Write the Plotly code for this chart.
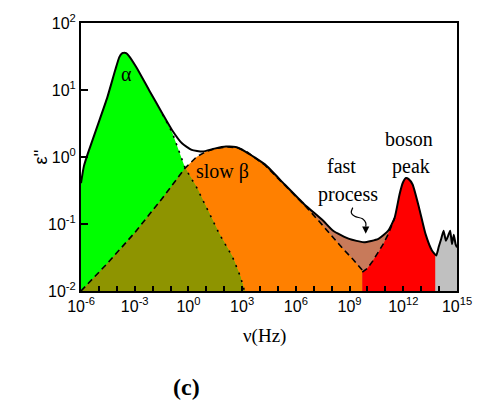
import numpy as np
import plotly.graph_objects as go

# ---- data (log10 of frequency in Hz, log10 of eps'') ----
total_lognu = [-6.0, -5.84, -5.62, -5.08, -4.53, -4.08, -3.86, -3.72, -3.61, -3.48, -3.33,
               -2.90, -2.18, -1.45, -0.91, -0.36, 0.18, 0.79, 1.45, 2.10, 2.64, 3.18, 4.27,
               5.36, 6.45, 7.53, 8.08, 8.98, 9.80, 10.61, 11.16, 11.52, 11.79, 11.98, 12.15,
               12.30, 12.52, 12.88, 13.24, 13.60, 13.84, 13.98, 14.12, 14.25, 14.38, 14.50,
               14.62, 14.72, 14.82, 14.92, 15.0]
total_logeps = [-0.39, -0.14, 0.05, 0.465, 0.89, 1.305, 1.49, 1.545, 1.557, 1.55, 1.51,
                1.336, 0.99, 0.647, 0.40, 0.204, 0.106, 0.081, 0.125, 0.155, 0.148, 0.081,
                -0.11, -0.406, -0.70, -0.952, -1.10, -1.222, -1.272, -1.222, -1.10, -0.903,
                -0.558, -0.38, -0.313, -0.33, -0.41, -0.756, -1.148, -1.395, -1.469, -1.34,
                -1.22, -1.10, -1.25, -1.18, -1.10, -1.30, -1.16, -1.30, -1.35]

alpha_lognu = [-6.0, -5.84, -5.62, -5.08, -4.53, -4.08, -3.86, -3.72, -3.61, -3.48, -3.33,
               -2.90, -2.18, -1.45, -0.91, -0.185, 0.47, 1.01, 1.73, 2.46, 2.91, 3.13]
alpha_logeps = [-0.40, -0.15, 0.04, 0.46, 0.885, 1.30, 1.485, 1.54, 1.552, 1.545, 1.505,
                1.33, 0.985, 0.635, 0.37, -0.165, -0.46, -0.756, -1.15, -1.49, -1.79, -2.0]

beta_lognu = [-6.0, -4.5, -3.0, -1.5, -0.185, 0.47, 1.01, 1.6, 2.2, 2.8, 3.3, 4.27, 5.36,
              6.45, 7.3, 8.0, 8.6, 9.2, 9.71]
beta_logeps = [-2.0, -1.58, -1.13, -0.63, -0.165, 0.005, 0.085, 0.13, 0.15, 0.135, 0.07,
               -0.12, -0.415, -0.71, -0.96, -1.18, -1.36, -1.53, -1.69]

boson_lognu = [9.71, 10.0, 10.3, 10.6, 10.9, 11.16, 11.4, 11.52, 11.79, 11.98, 12.15, 12.30,
               12.52, 12.88, 13.24, 13.60, 13.78]
boson_logeps = [-1.72, -1.66, -1.55, -1.43, -1.29, -1.15, -1.0, -0.91, -0.56, -0.38, -0.313,
                -0.33, -0.41, -0.756, -1.148, -1.395, -1.45]

cross_lognu = -0.185      # alpha / beta crossing
fast_start_lognu = 6.45   # where fast process starts to show
gray_start_lognu = 13.78  # end of boson peak fill

x_tick_exp = list(range(-6, 16))
y_tick_exp = [-2, -1, 0, 1, 2]

# -----------------------------------------------------------------------------
def arr(a):
    return np.power(10.0, np.array(a, dtype=float))

tu, tv = np.array(total_lognu), np.array(total_logeps)
au, av = np.array(alpha_lognu), np.array(alpha_logeps)
bu, bv = np.array(beta_lognu), np.array(beta_logeps)
su, sv = np.array(boson_lognu), np.array(boson_logeps)
BOT = -2.0

# pixel helpers for placing labels (plot area 81..467 x 20..291)
def px_u(px):
    return -6 + (px - 81) / 386 * 21

def px_v(py):
    return 2 - (py - 20) / 271 * 4


def closed(u, v):
    u = list(u); v = list(v)
    xs = [u[0]] + u + [u[-1], u[0]]
    ys = [BOT] + v + [BOT, BOT]
    return arr(xs), arr(ys)


fig = go.Figure()


def fill(u, v, color):
    x, y = closed(u, v)
    fig.add_trace(go.Scatter(x=x, y=y, mode="lines", fill="toself", fillcolor=color,
                             line=dict(width=0), hoverinfo="skip", showlegend=False))


m = tu >= fast_start_lognu
fill(tu[m], tv[m], "#C87A5A")                    # fast process
m = tu >= gray_start_lognu
fill(np.r_[gray_start_lognu, tu[m]], np.r_[sv[-1], tv[m]], "#C0C0C0")
fill(bu, bv, "#FF8000")                           # slow beta
fill(au, av, "#00FF00")                           # alpha
ou = np.r_[bu[bu <= cross_lognu], au[au > cross_lognu]]
ov = np.r_[bv[bu <= cross_lognu], av[au > cross_lognu]]
fill(ou, ov, "#8E9400")                           # overlap
fill(su, sv, "#FF0000")                           # boson peak

# dashed / dotted component lines
fig.add_trace(go.Scatter(x=arr(bu), y=arr(bv), mode="lines",
                         line=dict(color="black", width=1.6, dash="6px,4px"),
                         hoverinfo="skip", showlegend=False))
m = au >= -1.45
fig.add_trace(go.Scatter(x=arr(au[m]), y=arr(av[m]), mode="lines",
                         line=dict(color="black", width=1.6, dash="2px,6px"),
                         hoverinfo="skip", showlegend=False))
fig.add_trace(go.Scatter(x=arr(su[:8]), y=arr(sv[:8]), mode="lines",
                         line=dict(color="black", width=1.6, dash="6px,4px"),
                         hoverinfo="skip", showlegend=False))
# total
fig.add_trace(go.Scatter(x=arr(tu), y=arr(tv), mode="lines",
                         line=dict(color="black", width=2, shape="spline", smoothing=0.5),
                         hoverinfo="skip", showlegend=False))

# curly arrow tail
arrow_px = [(360, 206.7), (358.5, 212), (362, 215.5), (370, 218), (373.3, 222), (373.3, 226)]
fig.add_trace(go.Scatter(x=arr([px_u(p[0]) for p in arrow_px]),
                         y=arr([px_v(p[1]) for p in arrow_px]),
                         mode="lines", line=dict(color="black", width=1.2, shape="spline"),
                         hoverinfo="skip", showlegend=False))

serif = "Liberation Serif, Times New Roman, serif"
sans = "Liberation Sans, Arial, sans-serif"

ann = []
def txt(px, py, s, size=20):
    ann.append(dict(x=px_u(px), y=px_v(py), xref="x", yref="y", text=s, showarrow=False,
                    font=dict(family=serif, size=size, color="black"),
                    xanchor="center", yanchor="middle"))

txt(128, 72, "α")
txt(226, 170, "slow β")
txt(348, 165, "fast")
txt(355, 193, "process")
txt(417.5, 137, "boson")
txt(420, 165, "peak")

# arrow head
ann.append(dict(x=px_u(373.3), y=px_v(233), xref="x", yref="y", ax=0, ay=-8,
                axref="pixel", ayref="pixel", text="", showarrow=True, arrowhead=2,
                arrowsize=1.2, arrowwidth=1.2, arrowcolor="black"))

# axis titles
ann.append(dict(x=(40 - 81) / 386, y=1 - (156 - 20) / 271, xref="paper", yref="paper",
                text="ε''", showarrow=False, textangle=-90,
                font=dict(family=sans, size=18, color="black"),
                xanchor="center", yanchor="middle"))
ann.append(dict(x=(269 - 81) / 386, y=-(336 - 291) / 271, xref="paper", yref="paper",
                text="ν(Hz)", showarrow=False,
                font=dict(family=serif, size=19, color="black"),
                xanchor="center", yanchor="middle"))
ann.append(dict(x=(189 - 81) / 386, y=-(388 - 291) / 271, xref="paper", yref="paper",
                text="<b>(c)</b>", showarrow=False,
                font=dict(family=serif, size=24, color="black"),
                xanchor="center", yanchor="middle"))

xtext = [("10<sup>%d</sup>" % k) if k % 3 == 0 else "" for k in x_tick_exp]
ytext = ["10<sup>%d</sup>" % k for k in y_tick_exp]

fig.update_layout(
    width=484, height=410,
    margin=dict(l=81, r=17, t=20, b=119),
    paper_bgcolor="white", plot_bgcolor="white",
    annotations=ann,
    xaxis=dict(type="log", range=[-6, 15], tickvals=list(arr(x_tick_exp)), ticktext=xtext,
               ticks="inside", ticklen=5, tickwidth=1.5, tickcolor="black",
               showline=True, linecolor="black", linewidth=2, mirror=True,
               showgrid=False, zeroline=False,
               tickfont=dict(family=sans, size=16, color="black")),
    yaxis=dict(type="log", range=[-2, 2], tickvals=list(arr(y_tick_exp)), ticktext=ytext,
               ticks="inside", ticklen=7, tickwidth=1.5, tickcolor="black",
               showline=True, linecolor="black", linewidth=2, mirror=True,
               showgrid=False, zeroline=False,
               tickfont=dict(family=sans, size=16, color="black")),
)

fig.write_html("out.html")
